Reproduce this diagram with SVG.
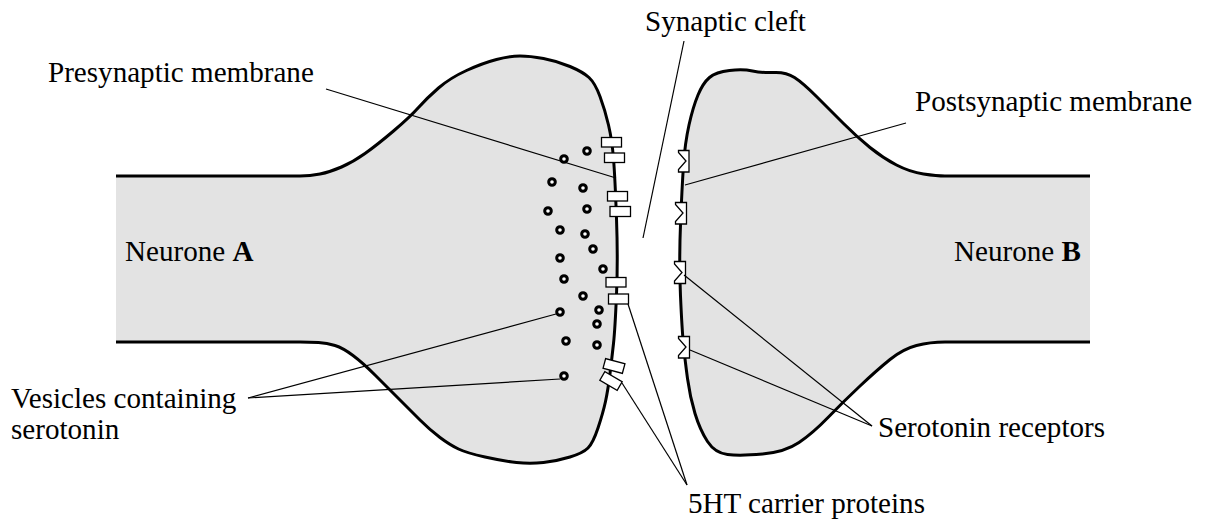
<svg xmlns="http://www.w3.org/2000/svg" width="1210" height="523" viewBox="0 0 1210 523">
<style>
text{font-family:"Liberation Serif","Times New Roman",serif;font-size:29.100px;fill:#000}
.body{fill:#e3e3e3;stroke:none}
.edge{fill:none;stroke:#000;stroke-width:3}
.lead{fill:none;stroke:#000;stroke-width:1.2}
.ves{fill:#fff;stroke:#000;stroke-width:3}
.car{fill:#fff;stroke:#000;stroke-width:1.3}
.rec{fill:none;stroke:#000;stroke-width:1.3}
.base{fill:#fff;stroke:none}
</style>
<defs>
<path id="a-outline" d="M116 176H300Q310 176 320 174Q330 172 341.500 167Q353 162 365 153.500Q377 145 393.500 131Q410 117 418.500 107.500Q427 98 438.500 88Q450 78 466.500 70.500Q483 63 496.500 59.500Q510 56 520 56Q530 56 543.500 58.500Q557 61 570 66.500Q583 72 589 77.500Q595 83 600 96.500Q605 110 608.500 125Q612 140 613.500 158.500Q615 177 616.500 218.500Q618 260 616.500 295Q615 330 613.500 343.500Q612 357 610 373.500Q608 390 605.500 401.500Q603 413 598 428Q593 443 588 448Q583 453 570 457Q557 461 543.500 462.500Q530 464 516.500 462.500Q503 461 485 457Q467 453 458.500 449Q450 445 440 437.500Q430 430 420 420Q410 410 398.500 398.500Q387 387 375 375Q363 363 353 355.500Q343 348 335 345.500Q327 343 318.500 342.500Q310 342 300 342H116"/>
<path id="b-outline" d="M1090 176H945Q937 176 923.500 174Q910 172 896.500 165Q883 158 870 147.500Q857 137 843.500 123.500Q830 110 816.500 96.500Q803 83 794.500 77.500Q786 72 774 72.500Q762 73 752.500 71Q743 69 729.500 70.500Q716 72 709.500 77.500Q703 83 698 95Q693 107 689 125Q685 143 683.500 165Q682 187 680.500 224.500Q679 262 680.500 296Q682 330 683.500 345Q685 360 687.500 378.500Q690 397 695 413.500Q700 430 707.500 441.500Q715 453 727.500 454.500Q740 456 762.500 454Q785 452 799 442.500Q813 433 828 417.500Q843 402 860 386Q877 370 890 359.500Q903 349 916.500 345.500Q930 342 945 342H1090"/>
</defs>
<rect width="1210" height="523" fill="#fff"/>
<g id="neurone-a">
<use href="#a-outline" class="body"/>
<use href="#a-outline" class="edge"/>
<text x="125" y="261">Neurone <tspan font-weight="bold">A</tspan></text>
</g>
<g id="neurone-b">
<use href="#b-outline" class="body"/>
<use href="#b-outline" class="edge"/>
<text x="954" y="261">Neurone <tspan font-weight="bold">B</tspan></text>
</g>
<g id="vesicles" class="ves">
<circle cx="587" cy="151" r="3.300"/><circle cx="564" cy="159" r="3.300"/><circle cx="552" cy="182" r="3.300"/>
<circle cx="583" cy="188" r="3.300"/><circle cx="548" cy="211" r="3.300"/><circle cx="587" cy="209" r="3.300"/>
<circle cx="560" cy="230" r="3.300"/><circle cx="585" cy="234" r="3.300"/><circle cx="593" cy="249" r="3.300"/>
<circle cx="560" cy="258" r="3.300"/><circle cx="603" cy="269" r="3.300"/><circle cx="564" cy="279" r="3.300"/>
<circle cx="583" cy="296" r="3.300"/><circle cx="560" cy="312" r="3.300"/><circle cx="599" cy="310" r="3.300"/>
<circle cx="597" cy="324" r="3.300"/><circle cx="566" cy="341" r="3.300"/><circle cx="597" cy="345" r="3.300"/>
<circle cx="564" cy="376" r="3.300"/>
</g>
<g id="carriers" class="car">
<rect x="601.500" y="137.500" width="20" height="9.500"/><rect x="604.500" y="153" width="20" height="9.500"/>
<rect x="607.500" y="191.500" width="20" height="9.500"/><rect x="610" y="206.500" width="20.500" height="10"/>
<rect x="606" y="277.500" width="20" height="9.500"/><rect x="608.500" y="294" width="20" height="10"/>
<rect x="604" y="361" width="20" height="10" transform="rotate(15 614 366)"/>
<rect x="601" y="376" width="20" height="10" transform="rotate(30 611 381)"/>
</g>
<g id="receptors">
<rect class="base" x="678" y="150" width="11" height="22"/>
<path class="rec" d="M678.500 150.500H689V172H678.500V169.500L686 161L678.500 152.500Z"/>
<rect class="base" x="675" y="202" width="12" height="22"/>
<path class="rec" d="M675.500 202.500H686.500V224H675.500V221.500L683 213L675.500 204.500Z"/>
<rect class="base" x="674" y="261" width="12" height="23"/>
<path class="rec" d="M674.500 261.500H685.500V283.500H674.500V281L682 272.500L674.500 264Z"/>
<rect class="base" x="678" y="336" width="12" height="22"/>
<path class="rec" d="M678.500 336.500H689.500V358H678.500V355.500L686 347L678.500 338.500Z"/>
</g>
<g id="connectors" class="lead">
<path d="M684 41L643 238"/>
<path d="M326 89L616 178"/>
<path d="M906 123L685 185"/>
<path d="M248 398L556 314"/>
<path d="M248 398L560 379"/>
<path d="M628 304L687 485"/>
<path d="M622 383L687 485"/>
<path d="M684 275L872 426"/>
<path d="M690 350L872 426"/>
</g>
<g id="labels">
<text x="645" y="31">Synaptic cleft</text>
<text x="48" y="82">Presynaptic membrane</text>
<text x="915" y="111">Postsynaptic membrane</text>
<text x="11" y="408">Vesicles containing<tspan x="11" dy="31">serotonin</tspan></text>
<text x="878" y="437">Serotonin receptors</text>
<text x="688" y="513">5HT carrier proteins</text>
</g>
</svg>
